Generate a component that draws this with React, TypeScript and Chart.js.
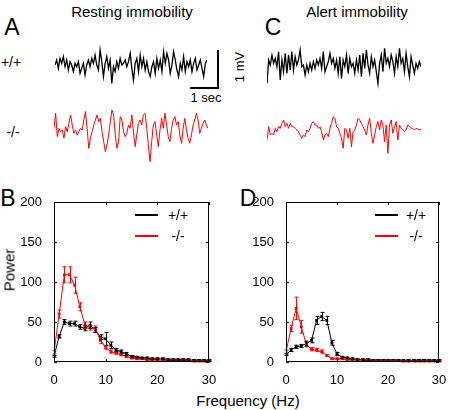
import React, { useEffect, useRef } from 'react';
import { Chart, registerables } from 'chart.js';

Chart.register(...registerables);

const FONT = '"Liberation Sans", Arial, Helvetica, sans-serif';
const RED = 'rgb(255,0,0)';
const BLACK = '#000000';

// ---------- EEG traces (µV, evenly sampled) ----------
const restWTTrace = [0,132,-88,175,44,219,-44,132,-132,88,0,-175,44,-44,88,-219,-88,44,-263,0,132,-44,175,44,263,0,-132,395,88,-307,44,219,-88,132,-482,-44,-175,88,-88,175,0,44,132,-44,88,307,-88,-395,44,175,-175,263,-44,175,-132,88,-175,-307,-44,88,-219,175,-88,132,-175,351,44,307,132,-219,0,351,132,-132,-307,44,-132,219,-175,88,-44,132,-175,44,175,-132,0,132,-88,-307,44,132];
const restKOTrace = [0,395,-219,0,-88,-44,-263,44,-88,132,351,88,-132,-44,-175,-88,0,-44,219,439,0,-526,-263,-88,88,219,351,175,263,-88,-351,-614,-439,-175,175,482,351,-175,-526,-351,307,219,-88,-219,-132,88,0,351,-88,-482,-175,132,219,88,351,395,0,-439,-877,-351,88,175,-175,-482,-44,263,0,395,88,-219,-351,0,219,307,88,175,-175,-395,0,263,-44,-263,-395,-175,88,219,395,219,-132,0,132,219,88,0];
const alertWTTrace = [-439,175,44,307,88,219,0,395,-351,175,-132,351,-175,307,-88,395,-88,263,44,175,439,0,44,-219,44,-132,88,-88,132,-44,175,44,219,-44,395,-132,0,132,351,88,219,-44,175,-175,263,-307,175,0,307,-175,219,0,88,-175,175,-88,307,-263,351,-44,439,44,-175,263,0,175,-132,-439,88,307,-132,482,88,219,0,307,132,-175,263,0,482,88,219,-132,351,0,-263,263,44,-175,88,-44,132,0];
const alertKOTrace = [-263,88,-132,-88,-132,44,-44,88,44,175,263,88,175,44,175,88,88,44,0,-44,-132,-219,-132,-175,0,-44,44,175,219,132,132,44,88,-44,-263,-132,-88,-175,44,175,351,307,88,44,-88,-219,-482,44,0,-219,44,-439,-44,0,132,307,263,175,88,0,-132,132,307,-88,-351,-132,88,219,0,263,132,-307,132,-614,132,263,-88,88,219,-263,132,44,0,-44,0,132,88,44,44,0,44,26,0,26];

// ---------- Power spectra ----------
const freqHz = [0,1,2,3,4,5,6,7,8,9,10,11,12,13,14,15,16,17,18,19,20,21,22,23,24,25,26,27,28,29,30];
const xTicks = [0, 10, 20, 30];
const yTicks = [0, 50, 100, 150, 200];

const restWT = [7,32,50,48,48,44,42,46,40,31,29,21,15,13,10,7,6,5,5,4,4,4,3,3,3,3,3,2,2,2,2];
const restWTErr = [1,2,3,3,3,3,3,4,3,3,8,4,2,2,2,1,1,1,1,1,1,1,1,1,1,1,1,1,1,1,1];
const restKO = [12,60,109,109,96,69,46,43,41,27,18,13,11,9,7,5,4,4,3,3,3,2,2,2,2,2,2,1,1,1,1];
const restKOErr = [2,5,10,10,10,5,4,3,4,4,2,2,1,1,1,1,1,1,1,1,1,1,1,1,1,1,1,1,1,1,1];

const alertWT = [9,15,19,20,23,27,52,57,52,24,10,6,5,4,3,3,3,2,2,2,2,2,2,2,2,2,2,2,2,2,2];
const alertWTErr = [1,2,2,2,3,3,5,5,5,3,2,1,1,1,1,1,1,1,1,1,1,1,1,1,1,1,1,1,1,1,1];
const alertKO = [13,42,67,44,22,16,15,13,8,4,4,4,3,3,3,2,2,2,2,2,2,2,2,1,1,1,1,1,1,1,1];
const alertKOErr = [2,4,14,8,3,2,2,2,1,1,1,1,1,1,1,1,1,1,1,1,1,1,1,1,1,1,1,1,1,1,1];

function TraceChart(props: { values: number[]; color: string; lw: number; left: number; top: number; w: number; h: number; min: number; max: number }) {
  const ref = useRef<HTMLCanvasElement>(null);
  useEffect(() => {
    const chart = new Chart(ref.current!, {
      type: 'line',
      data: {
        labels: props.values.map((_, i) => i),
        datasets: [{ data: props.values, borderColor: props.color, borderWidth: props.lw, pointRadius: 0, tension: 0, fill: false }],
      },
      options: {
        responsive: false,
        animation: false,
        events: [],
        layout: { padding: 0 },
        plugins: { legend: { display: false }, tooltip: { enabled: false } },
        scales: {
          x: { display: false },
          y: { display: false, min: props.min, max: props.max },
        },
      },
    });
    return () => chart.destroy();
  }, []);
  return (
    <canvas ref={ref} width={props.w} height={props.h}
      style={{ position: 'absolute', left: props.left, top: props.top, width: props.w, height: props.h }} />
  );
}

const framePlugin = {
  id: 'frame',
  afterDraw(chart: any) {
    const { ctx, chartArea, scales } = chart;
    const { left, right, top, bottom } = chartArea;
    ctx.save();
    ctx.strokeStyle = '#000';
    ctx.lineWidth = 1;
    ctx.strokeRect(left + 0.5, top + 0.5, right - left - 1, bottom - top - 1);
    ctx.beginPath();
    for (const t of scales.x.ticks) {
      const px = Math.round(scales.x.getPixelForValue(t.value)) + 0.5;
      ctx.moveTo(px, bottom); ctx.lineTo(px, bottom - 3);
      ctx.moveTo(px, top); ctx.lineTo(px, top + 3);
    }
    for (const t of scales.y.ticks) {
      const py = Math.round(scales.y.getPixelForValue(t.value)) + 0.5;
      ctx.moveTo(left, py); ctx.lineTo(left + 3, py);
      ctx.moveTo(right, py); ctx.lineTo(right - 3, py);
    }
    ctx.stroke();
    ctx.restore();
  },
};

const errorBarPlugin = {
  id: 'errorBars',
  afterDatasetsDraw(chart: any) {
    const { ctx, scales } = chart;
    ctx.save();
    chart.data.datasets.forEach((ds: any, di: number) => {
      const meta = chart.getDatasetMeta(di);
      ctx.strokeStyle = ds.borderColor;
      ctx.lineWidth = 1;
      ctx.beginPath();
      meta.data.forEach((pt: any, i: number) => {
        const v = ds.data[i].y;
        const e = ds.errors[i];
        const x = Math.round(pt.x) + 0.5;
        const y1 = scales.y.getPixelForValue(v - e);
        const y2 = scales.y.getPixelForValue(v + e);
        ctx.moveTo(x, y1); ctx.lineTo(x, y2);
        ctx.moveTo(x - 2, y1); ctx.lineTo(x + 2, y1);
        ctx.moveTo(x - 2, y2); ctx.lineTo(x + 2, y2);
      });
      ctx.stroke();
    });
    ctx.restore();
  },
};

function SpectrumChart(props: { left: number; top: number; w: number; h: number; wt: number[]; wtErr: number[]; ko: number[]; koErr: number[] }) {
  const ref = useRef<HTMLCanvasElement>(null);
  useEffect(() => {
    const mk = (vals: number[]) => freqHz.map((f, i) => ({ x: f, y: vals[i] }));
    const chart = new Chart(ref.current!, {
      type: 'line',
      data: {
        datasets: [
          { label: '-/-', data: mk(props.ko), errors: props.koErr, borderColor: RED, backgroundColor: RED, borderWidth: 1, pointRadius: 2, pointStyle: 'rect', pointBorderWidth: 0, tension: 0 } as any,
          { label: '+/+', data: mk(props.wt), errors: props.wtErr, borderColor: BLACK, backgroundColor: BLACK, borderWidth: 1, pointRadius: 2, pointStyle: 'rect', pointBorderWidth: 0, tension: 0 } as any,
        ],
      },
      options: {
        responsive: false,
        animation: false,
        events: [],
        layout: { padding: { left: 0, right: 11, top: 12, bottom: 0 } },
        plugins: { legend: { display: false }, tooltip: { enabled: false } },
        scales: {
          x: {
            type: 'linear', min: 0, max: 30,
            grid: { display: false }, border: { display: false },
            afterBuildTicks: (s: any) => { s.ticks = xTicks.map((v) => ({ value: v })); },
            afterFit: (s: any) => { s.height = 23; },
            ticks: { color: '#000', padding: 3, font: { family: FONT, size: 13 }, maxRotation: 0 },
          },
          y: {
            type: 'linear', min: 0, max: 200,
            grid: { display: false }, border: { display: false },
            afterBuildTicks: (s: any) => { s.ticks = yTicks.map((v) => ({ value: v })); },
            afterFit: (s: any) => { s.width = 54; },
            ticks: { color: '#000', padding: 4, font: { family: FONT, size: 13 } },
          },
        },
      },
      plugins: [framePlugin, errorBarPlugin],
    });
    return () => chart.destroy();
  }, []);
  return (
    <canvas ref={ref} width={props.w} height={props.h}
      style={{ position: 'absolute', left: props.left, top: props.top, width: props.w, height: props.h }} />
  );
}

function Label(props: { x: number; y: number; text: string; size: number; rotate?: boolean; color?: string }) {
  return (
    <div style={{
      position: 'absolute', left: props.x, top: props.y, fontFamily: FONT, fontSize: props.size,
      lineHeight: 1, whiteSpace: 'nowrap', color: props.color || '#000',
      transform: `translate(-50%, -50%)${props.rotate ? ' rotate(-90deg)' : ''}`,
    }}>{props.text}</div>
  );
}

function Bar(props: { x: number; y: number; w: number; h: number; color: string }) {
  return <div style={{ position: 'absolute', left: props.x, top: props.y, width: props.w, height: props.h, background: props.color }} />;
}

export default function App() {
  return (
    <div style={{ position: 'absolute', left: 0, top: 0, width: 450, height: 410, background: '#fff', overflow: 'hidden' }}>
      <Label x={132} y={11} text="Resting immobility" size={15} />
      <Label x={357} y={11} text="Alert immobility" size={15} />
      <Label x={12} y={27} text="A" size={23} />
      <Label x={273} y={27} text="C" size={23} />
      <Label x={8} y={198} text="B" size={23} />
      <Label x={248} y={198} text="D" size={23} />
      <Label x={11} y={62} text="+/+" size={14} />
      <Label x={13} y={132} text="-/-" size={14} />
      <Label x={206} y={97} text="1 sec" size={13} />
      <Label x={239} y={67} text="1 mV" size={13} rotate />

      <Bar x={217} y={50} w={2} h={39} color="#000" />
      <Bar x={190} y={87} w={29} h={2} color="#000" />

      <TraceChart values={restWTTrace} color={BLACK} lw={1.3} left={55} top={40} w={152} h={55} min={-789} max={658} />
      <TraceChart values={restKOTrace} color={RED} lw={1} left={54} top={100} w={154} h={70} min={-1096} max={745} />
      <TraceChart values={alertWTTrace} color={BLACK} lw={1.3} left={267} top={40} w={154} h={55} min={-745} max={702} />
      <TraceChart values={alertKOTrace} color={RED} lw={1} left={267} top={100} w={154} h={60} min={-789} max={789} />

      <SpectrumChart left={0} top={190} w={220} h={195} wt={restWT} wtErr={restWTErr} ko={restKO} koErr={restKOErr} />
      <SpectrumChart left={232} top={190} w={218} h={195} wt={alertWT} wtErr={alertWTErr} ko={alertKO} koErr={alertKOErr} />

      <Label x={9} y={270} text="Power" size={15} rotate />
      <Label x={248} y={400} text="Frequency (Hz)" size={15} />

      <Bar x={135} y={214} w={23} h={2} color={BLACK} />
      <Label x={178} y={215} text="+/+" size={14} />
      <Bar x={135} y={235} w={23} h={2} color={RED} />
      <Label x={178} y={236} text="-/-" size={14} />

      <Bar x={375} y={214} w={23} h={2} color={BLACK} />
      <Label x={416} y={215} text="+/+" size={14} />
      <Bar x={375} y={235} w={23} h={2} color={RED} />
      <Label x={416} y={236} text="-/-" size={14} />
    </div>
  );
}
